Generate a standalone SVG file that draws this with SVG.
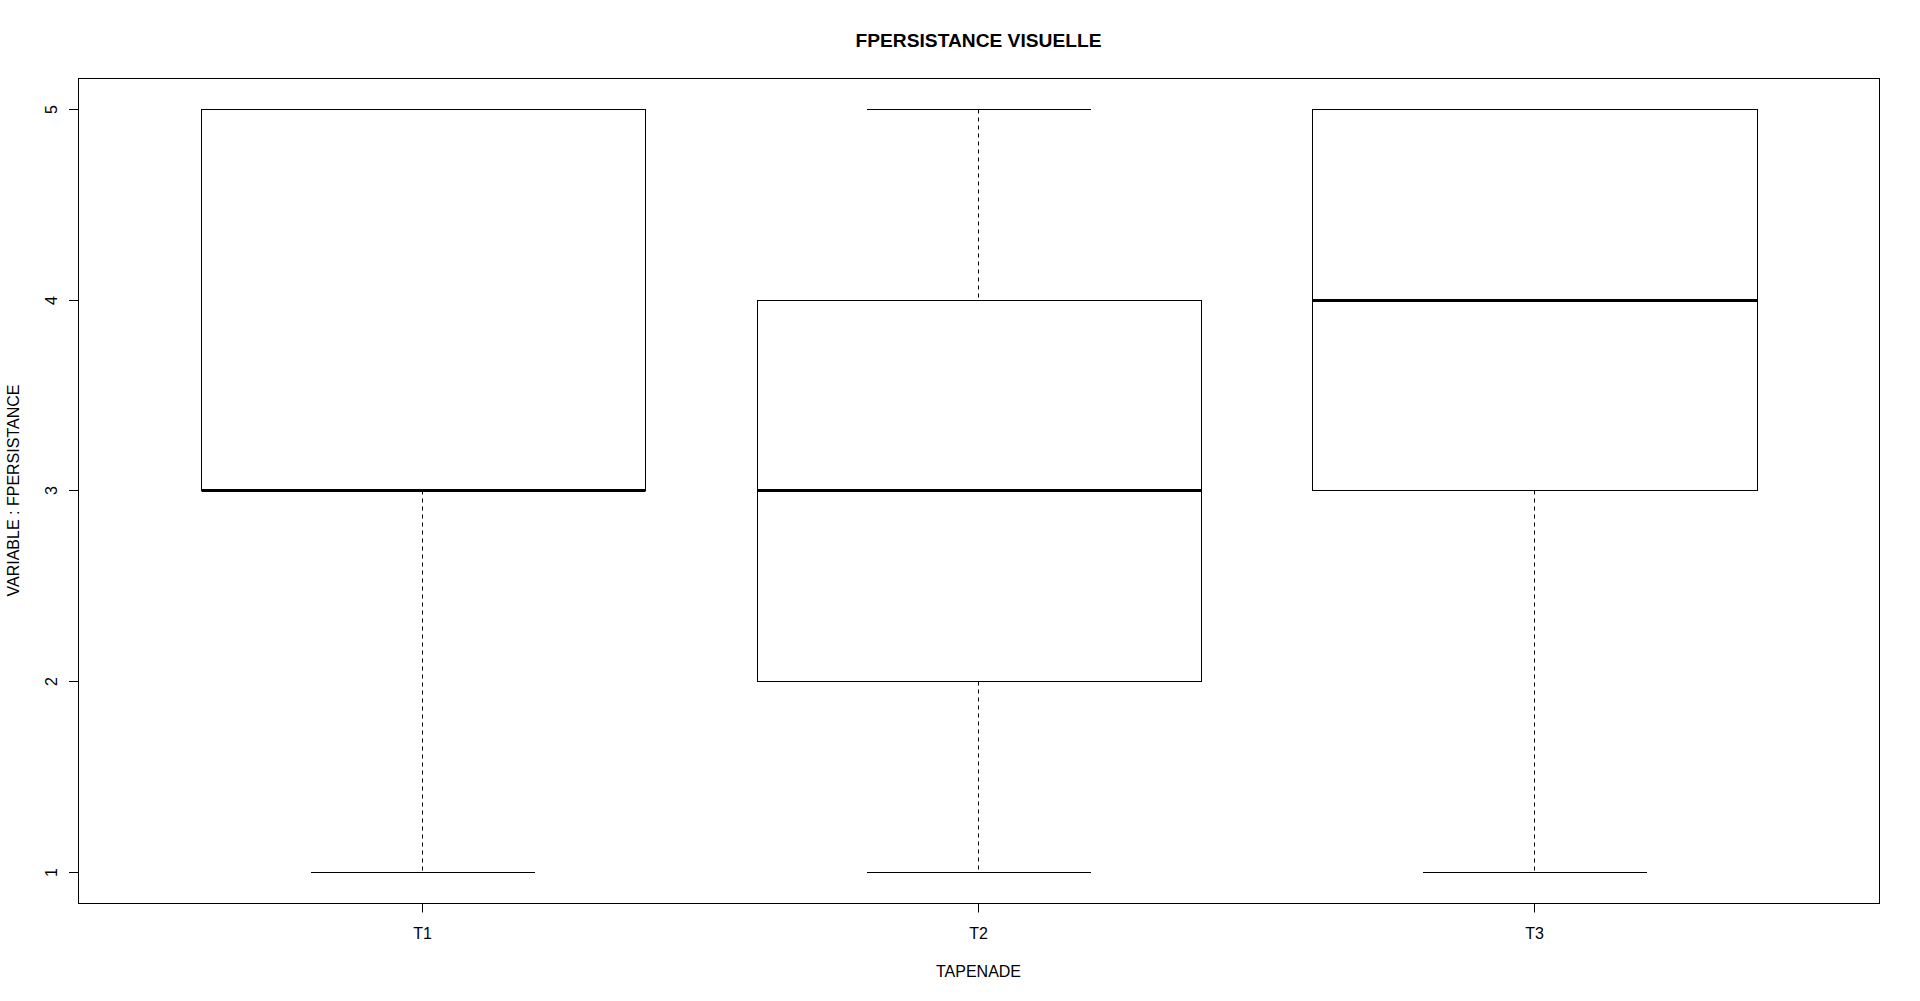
<svg xmlns="http://www.w3.org/2000/svg" width="1920" height="1001" viewBox="0 0 1920 1001">
<style>
.ln{stroke:#000;stroke-width:1;fill:none}
.box{stroke:#000;stroke-width:1;fill:#fff}
.med{stroke:#000;stroke-width:3;fill:none}
.wh{stroke:#000;stroke-width:1;fill:none;stroke-dasharray:4 4}
.t{font-family:"Liberation Sans",Arial,sans-serif;font-size:16px;fill:#000}
.title{font-family:"Liberation Sans",Arial,sans-serif;font-size:19.2px;font-weight:bold;fill:#000}
</style>
<rect x="0" y="0" width="1920" height="1001" fill="#fff"/>
<text class="title" x="978.5" y="46.5" text-anchor="middle">FPERSISTANCE VISUELLE</text>
<g id="connectors">
<line class="wh" x1="422.5" y1="490.5" x2="422.5" y2="872.5"/>
<line class="ln" x1="311" y1="872.5" x2="535" y2="872.5"/>
<line class="wh" x1="978.5" y1="109.5" x2="978.5" y2="300.5"/>
<line class="wh" x1="978.5" y1="681.5" x2="978.5" y2="872.5"/>
<line class="ln" x1="867" y1="109.5" x2="1091" y2="109.5"/>
<line class="ln" x1="867" y1="872.5" x2="1091" y2="872.5"/>
<line class="wh" x1="1534.5" y1="490.5" x2="1534.5" y2="872.5"/>
<line class="ln" x1="1423" y1="872.5" x2="1647" y2="872.5"/>
</g>
<g id="T1">
<rect class="box" x="201.5" y="109.5" width="444" height="381"/>
<line class="med" x1="201.5" y1="490.5" x2="645.5" y2="490.5"/>
</g>
<g id="T2">
<rect class="box" x="757.5" y="300.5" width="444" height="381"/>
<line class="med" x1="757.5" y1="490.5" x2="1201.5" y2="490.5"/>
</g>
<g id="T3">
<rect class="box" x="1312.5" y="109.5" width="445" height="381"/>
<line class="med" x1="1312.5" y1="300.5" x2="1757.5" y2="300.5"/>
</g>
<g id="axes">
<rect class="ln" x="78.5" y="78.5" width="1801" height="825"/>
<line class="ln" x1="422.5" y1="903.5" x2="422.5" y2="912.5"/>
<line class="ln" x1="978.5" y1="903.5" x2="978.5" y2="912.5"/>
<line class="ln" x1="1534.5" y1="903.5" x2="1534.5" y2="912.5"/>
<text class="t" x="422.5" y="938.5" text-anchor="middle">T1</text>
<text class="t" x="978.5" y="938.5" text-anchor="middle">T2</text>
<text class="t" x="1534.5" y="938.5" text-anchor="middle">T3</text>
<text class="t" x="978.5" y="976.5" text-anchor="middle">TAPENADE</text>
<line class="ln" x1="69" y1="109.5" x2="78.5" y2="109.5"/>
<line class="ln" x1="69" y1="300.5" x2="78.5" y2="300.5"/>
<line class="ln" x1="69" y1="490.5" x2="78.5" y2="490.5"/>
<line class="ln" x1="69" y1="681.5" x2="78.5" y2="681.5"/>
<line class="ln" x1="69" y1="872.5" x2="78.5" y2="872.5"/>
<text class="t" transform="translate(57,109.5) rotate(-90)" text-anchor="middle">5</text>
<text class="t" transform="translate(57,300.5) rotate(-90)" text-anchor="middle">4</text>
<text class="t" transform="translate(57,490.5) rotate(-90)" text-anchor="middle">3</text>
<text class="t" transform="translate(57,681.5) rotate(-90)" text-anchor="middle">2</text>
<text class="t" transform="translate(57,872.5) rotate(-90)" text-anchor="middle">1</text>
<text class="t" transform="translate(18.5,490.5) rotate(-90)" text-anchor="middle">VARIABLE : FPERSISTANCE</text>
</g>
</svg>
